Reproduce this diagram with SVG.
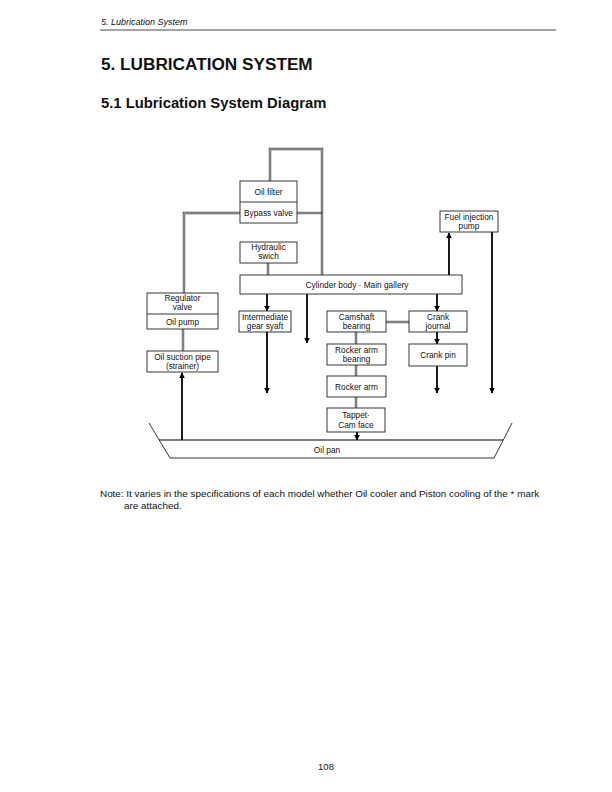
<svg xmlns="http://www.w3.org/2000/svg" width="612" height="792" viewBox="0 0 612 792">
<style>
text{font-family:"Liberation Sans",Arial,sans-serif;fill:#111}
.lbl{font-size:8.3px;text-anchor:middle}
.box{fill:#fff;stroke:#222;stroke-width:0.9}
.dbo{fill:none;stroke:#444;stroke-width:2.4}
.dbi{fill:none;stroke:#ddd;stroke-width:0.8}
.arr{fill:none;stroke:#000;stroke-width:1.8;marker-end:url(#ah)}
.thin{fill:none;stroke:#222;stroke-width:0.9}
</style>
<defs>
<marker id="ah" viewBox="0 0 10 10" refX="9" refY="5" markerWidth="3.2" markerHeight="4" orient="auto" markerUnits="strokeWidth">
<path d="M0,0 L10,5 L0,10 z" fill="#000"/>
</marker>
</defs>
<rect width="612" height="792" fill="#fff"/>
<text x="101" y="25" font-size="9" font-style="italic">5. Lubrication System</text>
<line x1="100" y1="30" x2="556" y2="30" stroke="#333" stroke-width="0.9"/>
<text x="101" y="70" font-size="17.2" font-weight="bold">5. LUBRICATION SYSTEM</text>
<text x="101" y="108" font-size="14.8" font-weight="bold">5.1 Lubrication System Diagram</text>

<g id="connectors">
<polyline class="dbo" points="270,181 270,149 322,149 322,275"/>
<polyline class="dbi" points="270,181 270,149 322,149 322,275"/>
<polyline class="dbo" points="240,213 184,213 184,293"/>
<polyline class="dbi" points="240,213 184,213 184,293"/>
<line class="dbo" x1="297" y1="213" x2="322" y2="213"/>
<line class="dbi" x1="297" y1="213" x2="321" y2="213"/>
<line class="dbo" x1="268" y1="263" x2="268" y2="275"/>
<line class="dbi" x1="268" y1="263" x2="268" y2="275"/>
<line class="dbo" x1="183" y1="329" x2="183" y2="351"/>
<line class="dbi" x1="183" y1="329" x2="183" y2="351"/>
<line class="dbo" x1="386" y1="322" x2="409" y2="322"/>
<line class="dbi" x1="386" y1="322" x2="409" y2="322"/>
<line class="dbo" x1="356" y1="332" x2="356" y2="344"/>
<line class="dbi" x1="356" y1="332" x2="356" y2="344"/>
<line class="dbo" x1="356" y1="365" x2="356" y2="376"/>
<line class="dbi" x1="356" y1="365" x2="356" y2="376"/>
<line class="dbo" x1="356" y1="397" x2="356" y2="408"/>
<line class="dbi" x1="356" y1="397" x2="356" y2="408"/>
<line class="arr" x1="182" y1="440" x2="182" y2="373"/>
<line class="arr" x1="267" y1="294" x2="267" y2="311"/>
<line class="arr" x1="267" y1="332" x2="267" y2="393"/>
<line class="arr" x1="307" y1="294" x2="307" y2="343"/>
<line class="arr" x1="437" y1="294" x2="437" y2="311"/>
<line class="arr" x1="437" y1="332" x2="437" y2="344"/>
<line class="arr" x1="437" y1="366" x2="437" y2="393"/>
<line class="arr" x1="449" y1="275" x2="449" y2="233"/>
<line class="arr" x1="492" y1="232" x2="492" y2="393"/>
<line class="arr" x1="357" y1="432" x2="357" y2="440"/>
</g>

<g id="oil-filter">
<rect class="box" x="240" y="181" width="57" height="42"/>
<line class="thin" x1="240" y1="202" x2="297" y2="202"/>
<text class="lbl" x="268.5" y="195">Oil filter</text>
<text class="lbl" x="268.5" y="216">Bypass valve</text>
</g>
<g id="hydraulic-switch">
<rect class="box" x="240" y="242" width="57" height="21"/>
<text class="lbl" x="268.5" y="250">Hydraulic</text>
<text class="lbl" x="268.5" y="259">swich</text>
</g>
<g id="cylinder-body">
<rect class="box" x="240" y="275" width="222" height="19"/>
<text class="lbl" x="357" y="287.5">Cylinder body · Main gallery</text>
</g>
<g id="fuel-injection-pump">
<rect class="box" x="440" y="211" width="58" height="21"/>
<text class="lbl" x="469" y="219.5">Fuel injection</text>
<text class="lbl" x="469" y="228.5">pump</text>
</g>
<g id="regulator-valve">
<rect class="box" x="147" y="293" width="71" height="36"/>
<line class="thin" x1="147" y1="314" x2="218" y2="314"/>
<text class="lbl" x="182.5" y="301">Regulator</text>
<text class="lbl" x="182.5" y="310">valve</text>
<text class="lbl" x="182.5" y="324.5">Oil pump</text>
</g>
<g id="oil-suction-pipe">
<rect class="box" x="147" y="351" width="71" height="21"/>
<text class="lbl" x="182.5" y="359.5">Oil suction pipe</text>
<text class="lbl" x="182.5" y="368.5">(strainer)</text>
</g>
<g id="intermediate-gear">
<rect class="box" x="239" y="311" width="52" height="21"/>
<text class="lbl" x="265" y="319.5">Intermediate</text>
<text class="lbl" x="265" y="328.5">gear syaft</text>
</g>
<g id="camshaft-bearing">
<rect class="box" x="327" y="311" width="59" height="21"/>
<text class="lbl" x="356.5" y="319.5">Camshaft</text>
<text class="lbl" x="356.5" y="328.5">bearing</text>
</g>
<g id="crank-journal">
<rect class="box" x="409" y="311" width="58" height="21"/>
<text class="lbl" x="438" y="319.5">Crank</text>
<text class="lbl" x="438" y="328.5">journal</text>
</g>
<g id="crank-pin">
<rect class="box" x="409" y="344" width="58" height="22"/>
<text class="lbl" x="438" y="358">Crank pin</text>
</g>
<g id="rocker-arm-bearing">
<rect class="box" x="327" y="344" width="59" height="21"/>
<text class="lbl" x="356.5" y="352.5">Rocker arm</text>
<text class="lbl" x="356.5" y="361.5">bearing</text>
</g>
<g id="rocker-arm">
<rect class="box" x="327" y="376" width="59" height="21"/>
<text class="lbl" x="356.5" y="389.5">Rocker arm</text>
</g>
<g id="tappet-cam-face">
<rect class="box" x="327" y="408" width="58" height="24"/>
<text class="lbl" x="356" y="418">Tappet·</text>
<text class="lbl" x="356" y="427.5">Cam face</text>
</g>
<g id="oil-pan">
<polyline class="thin" points="149,423 170,458 494,458 512,423"/>
<line x1="159" y1="440" x2="503" y2="440" stroke="#000" stroke-width="1.2"/>
<text class="lbl" x="327" y="453">Oil pan</text>
</g>

<text x="100" y="497" font-size="9.9">Note: It varies in the specifications of each model whether Oil cooler and Piston cooling of the * mark</text>
<text x="124" y="509" font-size="9.9">are attached.</text>
<text x="326" y="770" font-size="9.5" text-anchor="middle">108</text>
</svg>
